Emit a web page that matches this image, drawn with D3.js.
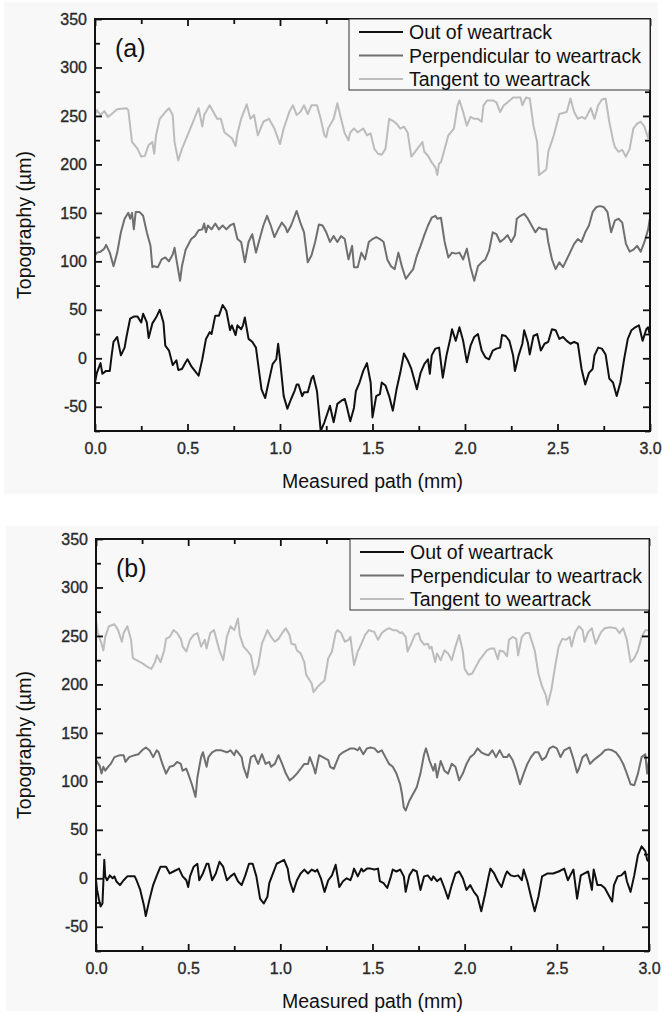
<!DOCTYPE html>
<html><head><meta charset="utf-8">
<script src="https://cdn.jsdelivr.net/npm/d3@7"></script>
<style>
body{margin:0;background:#fff}
svg{display:block}
text{font-family:"Liberation Sans",Arial,sans-serif}
</style>
</head><body>
<svg id="c" width="662" height="1013"></svg>
<script>
// ---------- data ----------
const seriesNames = ["Out of weartrack", "Perpendicular to weartrack", "Tangent to weartrack"];
const panelLabels = ["(a)", "(b)"];
const xTickValues = [0, 0.5, 1.0, 1.5, 2.0, 2.5, 3.0];
const xMinorValues = [0.25, 0.75, 1.25, 1.75, 2.25, 2.75];
const yTickValues = [-50, 0, 50, 100, 150, 200, 250, 300, 350];
const yMinorValues = [-75, -25, 25, 75, 125, 175, 225, 275, 325];
const xTitle = "Measured path (mm)";
const yTitle = "Topography (\u00b5m)";

const aTan = [[0,251],[0.01,256],[0.03,251],[0.05,255],[0.07,249],[0.09,252],[0.12,257],[0.17,258],[0.18,256],[0.20,223],[0.21,221],[0.23,216],[0.25,208],[0.27,209],[0.29,220],[0.31,223],[0.32,211],[0.33,230],[0.35,247],[0.38,254],[0.40,258],[0.42,251],[0.43,223],[0.45,204],[0.47,216],[0.50,230],[0.53,244],[0.56,258],[0.58,239],[0.59,251],[0.62,261],[0.64,254],[0.66,247],[0.68,247],[0.70,233],[0.72,230],[0.74,227],[0.76,219],[0.77,232],[0.79,247],[0.82,262],[0.84,247],[0.86,251],[0.88,230],[0.91,244],[0.94,247],[0.97,237],[1.00,221],[1.02,237],[1.05,254],[1.07,261],[1.09,251],[1.11,254],[1.13,261],[1.15,252],[1.17,261],[1.20,261],[1.22,247],[1.24,230],[1.25,228],[1.26,237],[1.29,247],[1.31,263],[1.33,247],[1.35,232],[1.37,225],[1.38,233],[1.40,237],[1.42,233],[1.45,237],[1.47,230],[1.49,232],[1.51,216],[1.53,211],[1.55,210],[1.57,216],[1.59,247],[1.61,245],[1.63,242],[1.65,237],[1.67,239],[1.69,233],[1.71,208],[1.73,213],[1.75,218],[1.77,223],[1.78,213],[1.80,209],[1.82,202],[1.84,197],[1.85,189],[1.86,201],[1.87,202],[1.89,216],[1.91,230],[1.94,237],[1.96,261],[1.97,266],[1.99,254],[2.01,240],[2.03,249],[2.05,247],[2.07,247],[2.09,244],[2.10,261],[2.12,266],[2.15,266],[2.17,264],[2.19,254],[2.21,261],[2.23,264],[2.26,269],[2.30,269],[2.31,261],[2.33,269],[2.35,268],[2.37,240],[2.39,223],[2.40,189],[2.42,192],[2.44,195],[2.45,213],[2.48,230],[2.51,252],[2.55,254],[2.57,268],[2.59,254],[2.61,247],[2.63,249],[2.65,247],[2.68,258],[2.70,247],[2.72,261],[2.74,267],[2.76,268],[2.78,244],[2.80,225],[2.81,218],[2.83,213],[2.85,215],[2.87,208],[2.89,216],[2.91,237],[2.93,242],[2.95,244],[2.97,239],[2.99,227],[3.00,237]];

const aPerp = [[0,106],[0.01,109],[0.03,110],[0.05,113],[0.06,117],[0.08,109],[0.10,95],[0.12,109],[0.14,130],[0.16,144],[0.17,147],[0.18,150],[0.19,144],[0.20,150],[0.21,133],[0.22,151],[0.24,151],[0.26,147],[0.28,130],[0.30,116],[0.31,94],[0.32,95],[0.34,94],[0.36,102],[0.38,104],[0.40,100],[0.42,107],[0.43,114],[0.44,102],[0.46,80],[0.47,95],[0.49,112],[0.52,123],[0.54,126],[0.56,132],[0.58,133],[0.59,139],[0.60,130],[0.61,137],[0.63,133],[0.65,139],[0.67,133],[0.69,137],[0.71,133],[0.73,137],[0.75,139],[0.77,123],[0.79,120],[0.81,99],[0.83,120],[0.85,128],[0.87,109],[0.89,123],[0.91,137],[0.93,147],[0.95,137],[0.97,125],[0.99,133],[1.01,140],[1.03,135],[1.04,130],[1.06,137],[1.09,152],[1.11,140],[1.13,130],[1.15,99],[1.17,106],[1.19,120],[1.21,138],[1.23,137],[1.25,130],[1.27,120],[1.29,126],[1.31,120],[1.33,126],[1.35,123],[1.37,102],[1.39,116],[1.40,94],[1.42,94],[1.44,109],[1.46,102],[1.48,120],[1.50,123],[1.52,125],[1.54,123],[1.56,120],[1.58,102],[1.60,95],[1.62,92],[1.64,109],[1.66,94],[1.68,82],[1.70,87],[1.72,92],[1.74,106],[1.76,116],[1.78,127],[1.80,137],[1.82,145],[1.84,147],[1.85,144],[1.87,145],[1.89,120],[1.91,104],[1.93,109],[1.95,108],[1.97,109],[1.99,102],[2.01,113],[2.03,94],[2.05,80],[2.07,95],[2.09,99],[2.11,102],[2.13,111],[2.15,130],[2.17,128],[2.19,120],[2.21,123],[2.23,127],[2.25,120],[2.27,127],[2.28,144],[2.30,147],[2.32,149],[2.34,144],[2.36,137],[2.38,130],[2.40,135],[2.42,133],[2.44,133],[2.45,120],[2.47,102],[2.49,92],[2.51,99],[2.53,94],[2.55,102],[2.57,110],[2.59,118],[2.61,123],[2.63,120],[2.65,130],[2.67,137],[2.69,151],[2.71,156],[2.73,157],[2.75,156],[2.77,151],[2.79,130],[2.81,142],[2.83,144],[2.85,140],[2.87,118],[2.89,110],[2.91,112],[2.93,116],[2.95,110],[2.97,120],[2.99,133],[3.00,145]];

const aOut = [[0,-25],[0.01,-15],[0.03,-5],[0.04,-16],[0.06,-13],[0.08,-13],[0.09,3],[0.10,17],[0.12,22],[0.14,3],[0.16,11],[0.17,22],[0.19,41],[0.21,43],[0.23,43],[0.25,37],[0.26,46],[0.28,37],[0.29,21],[0.31,36],[0.33,42],[0.35,50],[0.37,37],[0.38,13],[0.40,8],[0.42,-7],[0.44,-2],[0.45,-12],[0.47,-11],[0.49,-4],[0.50,-1],[0.52,-8],[0.54,-13],[0.56,-18],[0.58,-1],[0.60,20],[0.62,27],[0.63,25],[0.65,44],[0.67,44],[0.69,55],[0.71,49],[0.73,29],[0.74,34],[0.76,24],[0.77,34],[0.79,30],[0.80,34],[0.81,42],[0.83,20],[0.85,17],[0.87,11],[0.89,-18],[0.90,-32],[0.92,-41],[0.93,-32],[0.96,-6],[0.98,-1],[0.99,15],[1.00,-1],[1.02,-39],[1.04,-52],[1.06,-42],[1.08,-33],[1.09,-27],[1.10,-27],[1.12,-39],[1.13,-35],[1.15,-35],[1.17,-21],[1.18,-18],[1.20,-34],[1.22,-75],[1.24,-66],[1.27,-49],[1.29,-66],[1.31,-47],[1.33,-44],[1.35,-42],[1.36,-49],[1.38,-65],[1.40,-51],[1.41,-34],[1.43,-25],[1.45,-13],[1.47,-5],[1.49,-25],[1.50,-61],[1.52,-39],[1.54,-37],[1.55,-25],[1.57,-28],[1.59,-39],[1.61,-54],[1.63,-32],[1.65,-15],[1.67,5],[1.69,-2],[1.71,-11],[1.72,-18],[1.74,-32],[1.76,-15],[1.78,-6],[1.80,-1],[1.81,-16],[1.82,3],[1.84,10],[1.86,11],[1.88,-20],[1.90,3],[1.92,20],[1.93,30],[1.95,18],[1.97,32],[1.99,18],[2.01,-4],[2.03,13],[2.05,22],[2.07,25],[2.09,8],[2.11,1],[2.13,-1],[2.15,8],[2.17,10],[2.19,11],[2.20,24],[2.22,23],[2.24,18],[2.26,3],[2.27,-13],[2.29,3],[2.31,15],[2.32,29],[2.34,16],[2.35,4],[2.37,23],[2.39,25],[2.41,8],[2.43,15],[2.45,17],[2.47,30],[2.49,29],[2.51,20],[2.53,22],[2.55,18],[2.57,15],[2.59,17],[2.61,15],[2.63,-11],[2.65,-27],[2.67,-15],[2.69,-11],[2.70,3],[2.72,11],[2.74,10],[2.76,4],[2.78,-21],[2.80,-25],[2.82,-39],[2.84,-25],[2.86,-1],[2.88,20],[2.90,29],[2.92,32],[2.94,34],[2.96,18],[2.98,30],[2.99,32],[3.00,23]];

const bTan = [[0,266],[0.01,253],[0.03,242],[0.04,235],[0.05,249],[0.07,260],[0.10,262],[0.12,256],[0.14,244],[0.15,253],[0.17,260],[0.19,246],[0.20,227],[0.22,225],[0.25,222],[0.28,218],[0.30,216],[0.32,223],[0.33,230],[0.35,223],[0.37,235],[0.38,247],[0.40,249],[0.42,256],[0.44,253],[0.46,247],[0.47,239],[0.49,234],[0.51,246],[0.53,251],[0.55,253],[0.57,239],[0.59,246],[0.60,237],[0.62,253],[0.64,256],[0.66,242],[0.67,235],[0.69,225],[0.71,249],[0.73,260],[0.75,256],[0.77,268],[0.78,251],[0.80,239],[0.82,235],[0.84,230],[0.86,210],[0.88,220],[0.90,242],[0.92,251],[0.93,256],[0.95,249],[0.97,244],[0.99,247],[1.01,253],[1.03,258],[1.05,251],[1.06,242],[1.08,241],[1.09,235],[1.11,232],[1.13,223],[1.14,210],[1.16,204],[1.17,201],[1.18,192],[1.20,197],[1.22,201],[1.24,204],[1.26,227],[1.28,234],[1.30,253],[1.31,256],[1.33,253],[1.35,244],[1.37,246],[1.38,249],[1.40,220],[1.42,234],[1.44,242],[1.46,251],[1.48,256],[1.51,254],[1.53,246],[1.55,253],[1.57,256],[1.59,258],[1.61,256],[1.63,256],[1.65,253],[1.66,254],[1.68,249],[1.69,234],[1.71,242],[1.73,251],[1.75,253],[1.76,246],[1.78,241],[1.80,242],[1.81,237],[1.82,239],[1.84,223],[1.85,232],[1.87,225],[1.89,235],[1.91,232],[1.93,225],[1.95,239],[1.97,251],[1.99,234],[2.00,216],[2.02,210],[2.04,211],[2.06,218],[2.08,225],[2.10,230],[2.12,235],[2.14,237],[2.16,237],[2.18,226],[2.19,235],[2.21,234],[2.23,229],[2.24,246],[2.26,249],[2.28,247],[2.29,230],[2.31,249],[2.33,253],[2.35,253],[2.38,235],[2.40,211],[2.42,198],[2.44,189],[2.45,179],[2.47,194],[2.49,218],[2.51,239],[2.53,247],[2.55,246],[2.57,249],[2.58,239],[2.60,254],[2.62,260],[2.64,256],[2.65,244],[2.67,254],[2.69,258],[2.71,242],[2.72,246],[2.74,254],[2.76,258],[2.79,259],[2.82,258],[2.84,253],[2.86,258],[2.88,246],[2.90,223],[2.92,227],[2.94,235],[2.96,249],[2.98,256],[3.00,256]];

const bPerp = [[0,122],[0.02,116],[0.03,108],[0.04,115],[0.05,111],[0.07,116],[0.08,118],[0.10,125],[0.13,127],[0.15,127],[0.16,120],[0.18,125],[0.21,127],[0.23,128],[0.25,132],[0.27,135],[0.29,132],[0.31,125],[0.33,132],[0.34,130],[0.36,118],[0.38,108],[0.40,115],[0.42,116],[0.44,120],[0.46,118],[0.47,111],[0.49,113],[0.50,108],[0.52,97],[0.54,84],[0.55,104],[0.57,125],[0.58,130],[0.60,115],[0.61,125],[0.63,130],[0.65,132],[0.68,132],[0.71,130],[0.73,132],[0.75,127],[0.76,132],[0.77,130],[0.79,125],[0.80,115],[0.82,104],[0.84,125],[0.86,127],[0.87,122],[0.88,118],[0.90,128],[0.92,118],[0.94,120],[0.95,115],[0.97,118],[0.99,127],[1.01,118],[1.03,108],[1.05,101],[1.07,104],[1.09,108],[1.11,113],[1.13,118],[1.15,118],[1.16,125],[1.18,115],[1.19,108],[1.21,127],[1.23,125],[1.26,122],[1.27,115],[1.29,113],[1.32,127],[1.34,130],[1.36,132],[1.38,134],[1.40,134],[1.42,132],[1.43,135],[1.45,128],[1.47,134],[1.49,135],[1.51,134],[1.53,130],[1.55,132],[1.57,125],[1.59,118],[1.61,115],[1.63,108],[1.65,97],[1.66,87],[1.67,73],[1.68,70],[1.70,80],[1.72,87],[1.74,94],[1.76,108],[1.78,128],[1.79,134],[1.81,121],[1.83,111],[1.84,118],[1.85,104],[1.87,121],[1.89,111],[1.91,108],[1.93,118],[1.95,115],[1.97,101],[1.99,108],[2.01,118],[2.03,125],[2.05,128],[2.07,134],[2.09,130],[2.11,128],[2.13,127],[2.15,132],[2.17,125],[2.19,132],[2.21,125],[2.23,125],[2.24,128],[2.26,122],[2.28,111],[2.30,97],[2.32,108],[2.34,118],[2.36,125],[2.38,130],[2.40,130],[2.42,122],[2.44,125],[2.46,134],[2.48,136],[2.50,134],[2.52,125],[2.54,132],[2.56,134],[2.57,135],[2.59,123],[2.61,109],[2.62,113],[2.64,125],[2.66,128],[2.68,118],[2.70,122],[2.72,125],[2.74,128],[2.76,132],[2.78,133],[2.80,132],[2.82,130],[2.84,125],[2.86,118],[2.88,108],[2.90,97],[2.92,96],[2.94,108],[2.96,125],[2.98,128],[2.99,108],[3.00,122]];

const bOut = [[0,-2],[0.006,-12],[0.016,-22],[0.025,-29],[0.035,-26],[0.045,19],[0.05,2],[0.06,-2],[0.075,3],[0.09,0],[0.10,2],[0.11,-3],[0.13,-7],[0.15,-2],[0.17,2],[0.19,2],[0.21,2],[0.22,-2],[0.24,-12],[0.26,-28],[0.27,-39],[0.29,-22],[0.31,-7],[0.33,3],[0.35,12],[0.37,12],[0.38,12],[0.40,5],[0.42,7],[0.44,9],[0.45,10],[0.47,2],[0.49,-2],[0.50,-9],[0.51,2],[0.53,12],[0.55,15],[0.56,-2],[0.58,5],[0.60,15],[0.61,15],[0.63,-2],[0.65,5],[0.67,17],[0.69,12],[0.71,-2],[0.73,2],[0.75,5],[0.77,-3],[0.79,-7],[0.81,3],[0.83,15],[0.85,15],[0.87,2],[0.89,-21],[0.91,-26],[0.93,-19],[0.94,-5],[0.96,5],[0.98,15],[1.00,17],[1.02,19],[1.04,10],[1.05,-2],[1.07,-14],[1.09,-2],[1.11,5],[1.13,9],[1.15,5],[1.17,9],[1.19,7],[1.20,9],[1.22,0],[1.24,-14],[1.26,-2],[1.28,3],[1.30,14],[1.32,-9],[1.34,-3],[1.36,0],[1.38,-2],[1.39,3],[1.40,10],[1.42,2],[1.44,10],[1.45,7],[1.47,10],[1.49,10],[1.51,9],[1.53,10],[1.54,-3],[1.56,-5],[1.58,-10],[1.60,2],[1.61,9],[1.63,7],[1.65,9],[1.67,2],[1.68,-14],[1.70,3],[1.72,9],[1.74,7],[1.76,-12],[1.78,2],[1.80,3],[1.82,-2],[1.83,2],[1.85,-3],[1.87,0],[1.89,-10],[1.91,-21],[1.93,-7],[1.95,5],[1.97,7],[1.99,0],[2.01,-12],[2.03,-7],[2.05,-14],[2.07,-19],[2.09,-34],[2.11,-17],[2.13,2],[2.14,10],[2.16,5],[2.18,-3],[2.20,-9],[2.22,3],[2.23,7],[2.25,3],[2.27,2],[2.29,3],[2.31,-2],[2.32,9],[2.34,-3],[2.36,-19],[2.38,-34],[2.40,-19],[2.42,2],[2.43,3],[2.45,5],[2.48,5],[2.51,7],[2.53,9],[2.54,10],[2.56,-2],[2.57,2],[2.59,9],[2.61,-21],[2.63,3],[2.65,5],[2.67,7],[2.69,-12],[2.70,9],[2.72,-7],[2.74,-7],[2.76,-10],[2.78,-17],[2.80,-24],[2.81,-7],[2.83,2],[2.85,3],[2.87,7],[2.88,-3],[2.90,-14],[2.92,3],[2.94,24],[2.96,33],[2.98,28],[2.99,19],[3.00,17]];

// ---------- drawing ----------
const colors = ["#111111", "#6f6f6f", "#bcbcbc"];
const svg = d3.select("#c");

const panels = [
  {label: panelLabels[0], series: [aOut, aPerp, aTan], bg: [4, 2, 654, 492], L: 95, T: 19, R: 650, B: 431},
  {label: panelLabels[1], series: [bOut, bPerp, bTan], bg: [6, 526, 652, 485], L: 96, T: 539, R: 649, B: 951}
];

panels.forEach(p => {
  svg.append("rect").attr("x", p.bg[0]).attr("y", p.bg[1]).attr("width", p.bg[2]).attr("height", p.bg[3])
    .attr("fill", "#f8f8f8");

  const x = d3.scaleLinear().domain([0, 3]).range([p.L, p.R]);
  const y = d3.scaleLinear().domain([-75, 350]).range([p.B, p.T]);
  const g = svg.append("g");

  // series
  const line = d3.line().x(d => x(d[0])).y(d => y(d[1]));
  [2, 1, 0].forEach(i => {
    g.append("path").datum(p.series[i]).attr("d", line)
      .attr("fill", "none").attr("stroke", colors[i]).attr("stroke-width", 2)
      .attr("stroke-linejoin", "round");
  });

  const styleAxis = sel => {
    sel.select(".domain").remove();
    sel.selectAll(".tick line").attr("stroke", "#111").attr("stroke-width", 1.8);
    sel.selectAll(".tick text").attr("fill", "#2a2a2a").attr("stroke", "#2a2a2a").attr("stroke-width", 0.35)
      .style("font-size", "16px")
      .style("font-family", "'Liberation Sans', Arial, sans-serif");
  };

  // bottom
  g.append("g").attr("transform", `translate(0,${p.B})`)
    .call(d3.axisBottom(x).tickValues(xTickValues).tickSizeInner(-7).tickSizeOuter(0).tickPadding(12)
      .tickFormat(d3.format(".1f")))
    .call(styleAxis);
  g.append("g").attr("transform", `translate(0,${p.B})`)
    .call(d3.axisBottom(x).tickValues(xMinorValues).tickSizeInner(-5).tickSizeOuter(0).tickFormat(""))
    .call(styleAxis);
  // top
  g.append("g").attr("transform", `translate(0,${p.T})`)
    .call(d3.axisTop(x).tickValues(xTickValues).tickSizeInner(-7).tickSizeOuter(0).tickFormat(""))
    .call(styleAxis);
  g.append("g").attr("transform", `translate(0,${p.T})`)
    .call(d3.axisTop(x).tickValues(xMinorValues).tickSizeInner(-5).tickSizeOuter(0).tickFormat(""))
    .call(styleAxis);
  // left
  g.append("g").attr("transform", `translate(${p.L},0)`)
    .call(d3.axisLeft(y).tickValues(yTickValues).tickSizeInner(-7).tickSizeOuter(0).tickPadding(8)
      .tickFormat(d => String(d)))
    .call(styleAxis);
  g.append("g").attr("transform", `translate(${p.L},0)`)
    .call(d3.axisLeft(y).tickValues(yMinorValues).tickSizeInner(-5).tickSizeOuter(0).tickFormat(""))
    .call(styleAxis);
  // right
  g.append("g").attr("transform", `translate(${p.R},0)`)
    .call(d3.axisRight(y).tickValues(yTickValues).tickSizeInner(-7).tickSizeOuter(0).tickFormat(""))
    .call(styleAxis);
  g.append("g").attr("transform", `translate(${p.R},0)`)
    .call(d3.axisRight(y).tickValues(yMinorValues).tickSizeInner(-5).tickSizeOuter(0).tickFormat(""))
    .call(styleAxis);

  // frame
  g.append("rect").attr("x", p.L).attr("y", p.T).attr("width", p.R - p.L).attr("height", p.B - p.T)
    .attr("fill", "none").attr("stroke", "#111").attr("stroke-width", 2);

  // legend
  const lg = g.append("g");
  const lx0 = p.L + 254, ly0 = p.T;
  lg.append("rect").attr("x", lx0).attr("y", ly0).attr("width", p.R - lx0).attr("height", 71)
    .attr("fill", "#f8f8f8").attr("stroke", "#333").attr("stroke-width", 1);
  seriesNames.forEach((name, i) => {
    const cy = ly0 + 13 + i * 23.5;
    lg.append("line").attr("x1", lx0 + 10).attr("x2", lx0 + 54).attr("y1", cy).attr("y2", cy)
      .attr("stroke", colors[i]).attr("stroke-width", 2);
    lg.append("text").attr("x", lx0 + 60).attr("y", cy + 7).attr("fill", "#111")
      .style("font-size", "19.5px").text(name);
  });

  // panel label
  g.append("text").attr("x", p.L + 20).attr("y", p.T + 38).attr("fill", "#111")
    .style("font-size", "25px").text(p.label);

  // axis titles
  g.append("text").attr("x", (p.L + p.R) / 2).attr("y", p.B + 57).attr("text-anchor", "middle")
    .attr("fill", "#111").style("font-size", "19.5px").text(xTitle);
  g.append("text").attr("transform", `translate(${31},${(p.T + p.B) / 2}) rotate(-90)`)
    .attr("text-anchor", "middle").attr("fill", "#111").style("font-size", "19.5px").text(yTitle);
});
</script>
</body></html>
